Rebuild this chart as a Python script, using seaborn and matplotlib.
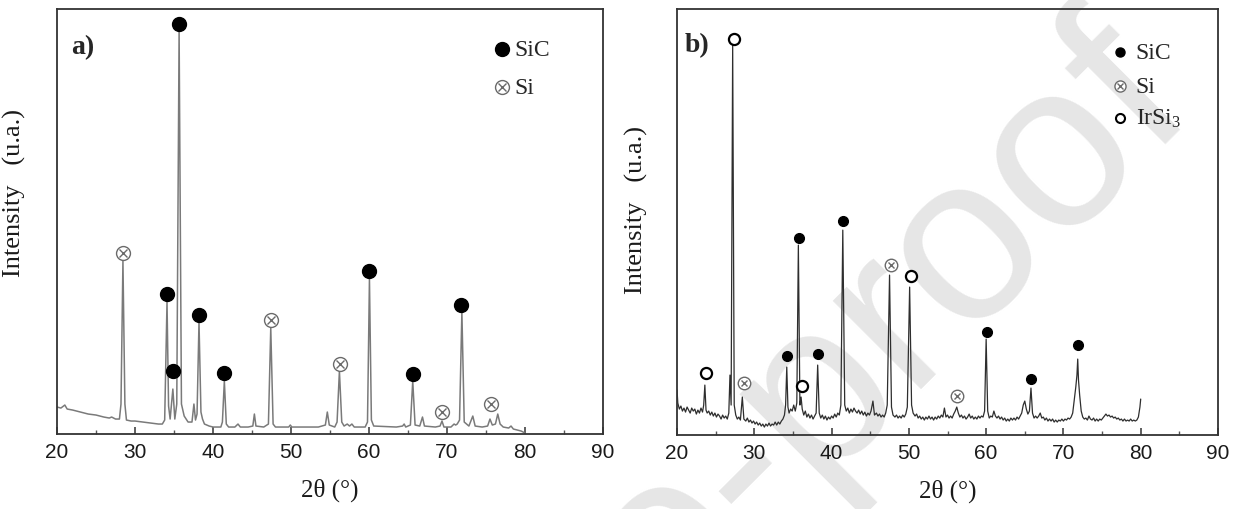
import matplotlib
matplotlib.use('Agg')
import matplotlib.pyplot as plt
import seaborn as sns

# panel a) trace: 2theta (deg) and intensity (arb.)
a_theta = [20.0, 20.5, 21.0, 21.3, 22.0, 23.0, 24.0, 25.0, 26.0, 26.7, 27.0, 27.5,
           28.0, 28.2, 28.45, 28.7, 28.9, 29.5, 30.0, 31.0, 32.0, 33.0, 33.5, 33.8,
           34.1, 34.3, 34.5, 34.85, 35.1, 35.35, 35.65, 35.95, 36.3, 36.8, 37.3, 37.55,
           37.75, 37.95, 38.2, 38.45, 38.65, 38.9, 39.5, 40.0, 41.0, 41.2, 41.45, 41.7,
           42.0, 42.8, 43.2, 43.5, 44.5, 45.1, 45.3, 45.5, 46.5, 47.1, 47.4, 47.7,
           48.0, 49.7, 49.9, 50.1, 53.5, 54.4, 54.65, 54.9, 55.6, 55.9, 56.2, 56.5,
           56.8, 57.2, 57.5, 57.8, 58.1, 59.5, 59.8, 60.05, 60.3, 60.6, 63.5, 64.3,
           64.5, 64.7, 65.3, 65.6, 65.9, 66.5, 66.85, 67.1, 68.5, 69.1, 69.35, 69.6,
           70.5, 70.9, 71.1, 71.3, 71.6, 71.9, 72.2, 72.8, 73.3, 73.6, 74.5, 75.2,
           75.5, 75.8, 76.2, 76.5, 76.8, 77.2, 77.9, 78.2, 78.5, 79.5, 80.0]
a_int = [27, 26, 29, 25, 24, 22, 20, 19, 17, 16, 17, 15,
         15, 30, 173, 30, 14, 13, 13, 12, 11, 10, 10, 14,
         132, 28, 15, 45, 15, 30, 403, 30, 18, 12, 12, 30,
         14, 20, 112, 22, 15, 10, 8, 7, 7, 12, 53, 10,
         7, 7, 10, 7, 7, 8, 20, 8, 7, 10, 106, 10,
         7, 7, 9, 7, 7, 9, 22, 9, 7, 12, 63, 12,
         8, 10, 8, 10, 7, 7, 12, 155, 14, 8, 7, 8,
         10, 7, 9, 53, 9, 8, 17, 8, 7, 8, 13, 7,
         7, 10, 9, 10, 14, 122, 12, 8, 18, 8, 7, 8,
         15, 9, 10, 20, 10, 7, 6, 8, 5, 3, 1]

a_sic_theta = [35.7, 34.1, 34.85, 38.15, 41.35, 59.95, 65.6, 71.8]
a_sic_int = [410, 140, 63, 119, 61, 163, 60, 129]
a_si_theta = [28.45, 47.4, 56.25, 69.3, 75.6]
a_si_int = [181, 114, 70, 22, 30]

# panel b) trace
b_theta = [20.0, 20.1, 20.3, 20.5, 20.7, 20.9, 21.1, 21.3, 21.5, 21.7, 21.9, 22.1,
           22.3, 22.5, 22.7, 22.9, 23.1, 23.3, 23.45, 23.6, 23.75, 23.9, 24.1, 24.3,
           24.5, 24.7, 24.9, 25.1, 25.3, 25.5, 25.7, 25.9, 26.1, 26.3, 26.5, 26.7,
           26.85, 27.0, 27.2, 27.4, 27.6, 27.8, 28.0, 28.2, 28.45, 28.65, 28.9, 29.1,
           29.3, 29.5, 29.7, 29.9, 30.1, 30.3, 30.5, 30.7, 30.9, 31.1, 31.3, 31.5,
           31.7, 31.9, 32.1, 32.3, 32.5, 32.7, 32.9, 33.1, 33.3, 33.5, 33.7, 33.9,
           34.05, 34.2, 34.35, 34.5, 34.7, 34.9, 35.1, 35.3, 35.5, 35.7, 35.9, 36.05,
           36.2, 36.4, 36.6, 36.8, 37.0, 37.2, 37.4, 37.6, 37.8, 38.0, 38.2, 38.4,
           38.6, 38.8, 39.0, 39.2, 39.4, 39.6, 39.8, 40.0, 40.2, 40.4, 40.6, 40.8,
           41.0, 41.2, 41.45, 41.7, 41.9, 42.1, 42.3, 42.5, 42.7, 42.9, 43.1, 43.3,
           43.5, 43.7, 43.9, 44.1, 44.3, 44.5, 44.7, 44.9, 45.1, 45.35, 45.55, 45.8,
           46.0, 46.2, 46.4, 46.6, 46.8, 47.0, 47.2, 47.5, 47.75, 47.95, 48.2, 48.4,
           48.6, 48.8, 49.0, 49.2, 49.4, 49.6, 49.8, 50.1, 50.35, 50.55, 50.8, 51.0,
           51.2, 51.4, 51.6, 51.8, 52.0, 52.2, 52.4, 52.6, 52.8, 53.0, 53.2, 53.4,
           53.6, 53.8, 54.0, 54.2, 54.4, 54.6, 54.8, 55.0, 55.2, 55.4, 55.6, 55.8,
           56.0, 56.2, 56.4, 56.6, 56.8, 57.0, 57.2, 57.4, 57.6, 57.8, 58.0, 58.2,
           58.4, 58.6, 58.8, 59.0, 59.2, 59.4, 59.6, 59.8, 60.0, 60.2, 60.4, 60.6,
           60.8, 61.0, 61.2, 61.4, 61.6, 61.8, 62.0, 62.2, 62.4, 62.6, 62.8, 63.0,
           63.2, 63.4, 63.6, 63.8, 64.0, 64.2, 64.4, 64.6, 64.8, 65.0, 65.2, 65.4,
           65.6, 65.8, 66.0, 66.2, 66.4, 66.6, 66.8, 67.0, 67.2, 67.4, 67.6, 67.8,
           68.0, 68.2, 68.4, 68.6, 68.8, 69.0, 69.2, 69.4, 69.6, 69.8, 70.0, 70.2,
           70.4, 70.6, 70.8, 71.0, 71.2, 71.4, 71.6, 71.75, 71.85, 71.95, 72.1, 72.3,
           72.5, 72.7, 72.9, 73.1, 73.3, 73.5, 73.7, 73.9, 74.1, 74.3, 74.5, 74.7,
           74.9, 75.1, 75.3, 75.5, 75.7, 75.9, 76.1, 76.3, 76.5, 76.7, 76.9, 77.1,
           77.3, 77.5, 77.7, 77.9, 78.1, 78.3, 78.5, 78.7, 78.9, 79.1, 79.3, 79.5,
           79.7, 79.9, 80.0]
b_int = [45, 32, 26, 29, 24, 27, 23, 28, 25, 22, 27, 24,
         26, 21, 25, 22, 27, 23, 30, 50, 25, 22, 24, 20,
         23, 19, 22, 18, 21, 19, 16, 20, 17, 19, 16, 22,
         60, 30, 390, 30, 20, 16, 18, 15, 38, 16, 14, 17,
         13, 15, 12, 14, 11, 13, 10, 12, 9, 11, 8, 11,
         9, 12, 9, 11, 10, 13, 10, 13, 11, 14, 16, 20,
         30, 68, 28, 22, 26, 24, 30, 24, 32, 190, 30, 38,
         26, 20, 24, 18, 21, 17, 20, 16, 19, 22, 70, 22,
         17, 20, 16, 19, 15, 18, 16, 19, 17, 21, 18, 22,
         20, 30, 205, 30, 24, 27, 22, 26, 23, 27, 24, 22,
         25, 21, 24, 20, 23, 19, 22, 20, 24, 34, 20, 22,
         19, 21, 18, 20, 18, 22, 30, 160, 28, 20, 18, 20,
         17, 19, 17, 20, 18, 21, 28, 148, 30, 22, 19, 21,
         17, 19, 16, 18, 15, 18, 16, 19, 16, 18, 15, 18,
         16, 19, 17, 20, 18, 27, 18, 20, 17, 19, 17, 21,
         24, 28, 22, 18, 20, 17, 19, 16, 18, 21, 17, 19,
         16, 18, 16, 19, 17, 19, 18, 24, 96, 24, 17, 19,
         18, 24, 19, 17, 19, 16, 18, 15, 17, 14, 16, 14,
         17, 15, 17, 15, 18, 16, 19, 22, 30, 34, 26, 21,
         24, 47, 22, 17, 19, 17, 19, 22, 17, 18, 15, 17,
         14, 16, 14, 16, 13, 15, 13, 15, 14, 16, 14, 16,
         15, 17, 16, 18, 22, 35, 48, 60, 76, 55, 40, 24,
         18, 16, 17, 15, 19, 16, 15, 17, 14, 16, 14, 16,
         15, 17, 19, 21, 19, 20, 18, 19, 17, 18, 16, 17,
         15, 16, 14, 16, 14, 15, 14, 16, 14, 15, 14, 15,
         18, 28, 36]

b_sic_theta = [34.26, 35.78, 38.23, 41.49, 60.07, 65.82, 71.83]
b_sic_int = [79, 197, 81, 214, 103, 56, 90]
b_si_theta = [28.65, 47.75, 56.25]
b_si_int = [52, 170, 39]
b_irsi3_theta = [23.7, 27.38, 36.14, 50.24]
b_irsi3_int = [62, 396, 49, 159]

xticks = [20, 30, 40, 50, 60, 70, 80, 90]

sns.set_theme(style='white')
plt.rcParams['font.family'] = ['Liberation Serif', 'DejaVu Serif']
plt.rcParams['mathtext.fontset'] = 'custom'
plt.rcParams['mathtext.rm'] = 'Liberation Serif'
plt.rcParams['mathtext.it'] = 'Liberation Serif:italic'

fig = plt.figure(figsize=(12.45, 5.10), dpi=100)

# watermark, kept behind the (transparent) axes
fig.text(0.962, 0.78, 'Journal Pre-proof', rotation=45, rotation_mode='anchor',
         ha='right', va='baseline', fontsize=170, color='#e6e6e6',
         family='Liberation Sans', zorder=-1)

ax_a = fig.add_axes([0.0458, 0.147, 0.4386, 0.833])
ax_b = fig.add_axes([0.5438, 0.145, 0.4345, 0.835])

SI_GRAY = '#6a6a6a'


def si_marker(ax, x, y, ms, transform=None, clip=True):
    kw = {} if transform is None else {'transform': transform}
    ax.plot(x, y, 'o', ms=ms, mfc='white', mec=SI_GRAY, mew=1.0, zorder=4, clip_on=clip, **kw)
    ax.plot(x, y, 'x', ms=ms * 0.55, color=SI_GRAY, mew=1.0, zorder=5, clip_on=clip, **kw)


def style_axis(ax, ylim_top, lab_y, lab_x):
    ax.set_facecolor('none')
    ax.set_xlim(20, 90)
    ax.set_ylim(0, ylim_top)
    ax.set_xticks(xticks)
    ax.set_xticks(range(25, 90, 10), minor=True)
    ax.set_yticks([])
    ax.tick_params(axis='x', which='major', direction='in', length=5, width=1.1,
                   color='#333333', pad=6, labelsize=15, labelcolor='#1a1a1a')
    ax.tick_params(axis='x', which='minor', direction='in', length=3, width=1.0,
                   color='#555555')
    ax.tick_params(axis='x', which='both', bottom=True, top=False)
    for lbl in ax.get_xticklabels():
        lbl.set_family('Liberation Sans')
    for sp in ax.spines.values():
        sp.set_color('#333333')
        sp.set_linewidth(1.3)
    ax.set_xlabel('2\u03b8 (\u00b0)', fontsize=18, labelpad=12, color='#1a1a1a')
    ax.set_ylabel('Intensity   (u.a.)', fontsize=19, color='#1a1a1a')
    ax.yaxis.set_label_coords(lab_x, lab_y)


# ---- panel a
sns.lineplot(x=a_theta, y=a_int, ax=ax_a, color='#7a7a7a', linewidth=1.1,
             estimator=None, sort=False)
ax_a.plot(a_sic_theta, a_sic_int, 'o', ms=10, color='black', zorder=5)
si_marker(ax_a, a_si_theta, a_si_int, 10)
style_axis(ax_a, 425, 0.57, -0.057)
ax_a.text(0.026, 0.913, 'a)', transform=ax_a.transAxes, fontsize=20,
          fontweight='bold', va='center', ha='left')
ax_a.plot([0.815], [0.906], 'o', ms=10, color='black', transform=ax_a.transAxes)
ax_a.text(0.837, 0.906, 'SiC', transform=ax_a.transAxes, fontsize=17, va='center')
si_marker(ax_a, [0.815], [0.816], 10, transform=ax_a.transAxes)
ax_a.text(0.837, 0.816, 'Si', transform=ax_a.transAxes, fontsize=17, va='center')

# ---- panel b
sns.lineplot(x=b_theta, y=b_int, ax=ax_b, color='#2e2e2e', linewidth=0.9,
             estimator=None, sort=False)
ax_b.plot(b_sic_theta, b_sic_int, 'o', ms=7, color='black', zorder=5)
si_marker(ax_b, b_si_theta, b_si_int, 9)
ax_b.plot(b_irsi3_theta, b_irsi3_int, 'o', ms=8, mfc='white', mec='black', mew=1.6, zorder=5)
style_axis(ax_b, 426, 0.53, -0.054)
ax_b.text(0.015, 0.918, 'b)', transform=ax_b.transAxes, fontsize=20,
          fontweight='bold', va='center', ha='left')
ax_b.plot([0.819], [0.899], 'o', ms=6.5, color='black', transform=ax_b.transAxes)
ax_b.text(0.848, 0.899, 'SiC', transform=ax_b.transAxes, fontsize=17, va='center')
si_marker(ax_b, [0.819], [0.819], 8, transform=ax_b.transAxes)
ax_b.text(0.848, 0.819, 'Si', transform=ax_b.transAxes, fontsize=17, va='center')
ax_b.plot([0.819], [0.744], 'o', ms=6.5, mfc='white', mec='black', mew=1.5,
          transform=ax_b.transAxes)
ax_b.text(0.848, 0.744, r'IrSi$_3$', transform=ax_b.transAxes, fontsize=17, va='center')

fig.savefig('out.png', dpi=100)
